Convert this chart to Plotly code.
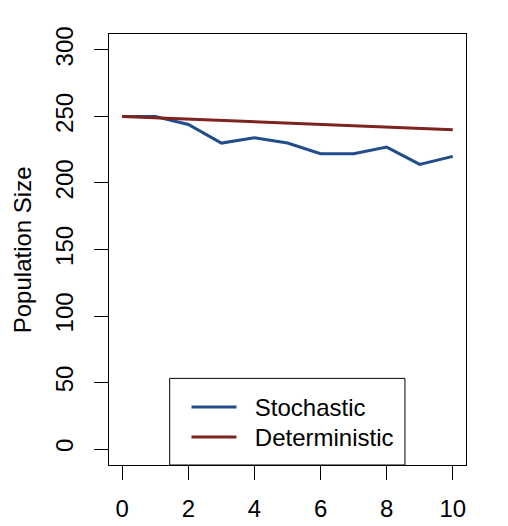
import plotly.graph_objects as go

# time steps and population trajectories
generations = [0, 1, 2, 3, 4, 5, 6, 7, 8, 9, 10]
stochastic = [250, 250, 244, 230, 234, 230, 222, 222, 227, 214, 220]
deterministic = [250, 249, 248, 247, 246, 245, 244, 243, 242, 241, 240]

y_ticks = [0, 50, 100, 150, 200, 250, 300]
x_ticks = [0, 2, 4, 6, 8, 10]

BLUE = "#224D8A"
RED = "#7F231E"
FONT = "Liberation Sans, Arial, sans-serif"
PAD = "\u00a0\u00a0"  # push legend text right of the line sample

fig = go.Figure()
fig.add_trace(go.Scatter(x=generations, y=stochastic, mode="lines", name=PAD + "Stochastic",
                         line=dict(color=BLUE, width=3), legend="legend"))
fig.add_trace(go.Scatter(x=generations, y=deterministic, mode="lines", name=PAD + "Deterministic",
                         line=dict(color=RED, width=3), legend="legend2"))

axis_common = dict(showgrid=False, zeroline=False, showline=True, linecolor="black",
                   linewidth=1, mirror=True, ticks="outside", ticklen=14,
                   tickcolor="black", tickwidth=1,
                   tickfont=dict(family=FONT, size=24, color="black"))

fig.update_xaxes(range=[-0.4, 10.4], tickvals=x_ticks, ticklabelstandoff=8, **axis_common)
fig.update_yaxes(range=[-12, 312], tickvals=y_ticks, tickangle=-90, ticklabelstandoff=11,
                 **axis_common)

# legend box (R style), legend entries drawn by plotly inside it
fig.add_shape(type="rect", xref="paper", yref="paper", x0=0.17, x1=0.829, y0=0, y1=0.201,
              line=dict(color="black", width=1), fillcolor="white", layer="below")

fig.add_annotation(text="Population Size", xref="paper", yref="paper", x=-0.285, y=0.5,
                   xanchor="left", textangle=-90, showarrow=False,
                   font=dict(family=FONT, size=24, color="black"))

legend_style = dict(xanchor="left", yanchor="top", bgcolor="rgba(0,0,0,0)", borderwidth=0,
                    font=dict(family=FONT, size=24, color="black"), itemwidth=45)

fig.update_layout(
    width=508, height=526,
    margin=dict(l=101, r=50, t=26, b=69),
    plot_bgcolor="white", paper_bgcolor="white",
    showlegend=True,
    legend=dict(x=0.217, y=0.1856, **legend_style),
    legend2=dict(x=0.217, y=0.116, **legend_style),
)

fig.write_html("out.html")
